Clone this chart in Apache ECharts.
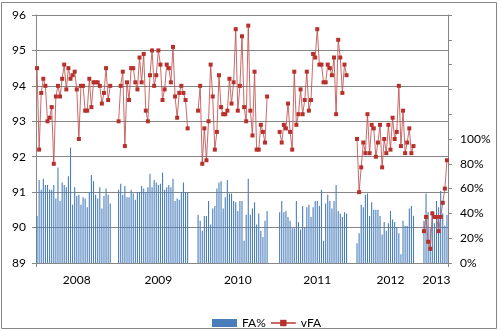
<!DOCTYPE html>
<html><head><meta charset="utf-8">
<script src="https://cdn.jsdelivr.net/npm/echarts@6/dist/echarts.min.js"></script>
<style>html,body{margin:0;padding:0;background:#fff}#c{width:501px;height:331px}</style>
</head><body><div id="c"></div>
<script>
const years = ['2008','2009','2010','2011','2012','2013'];
const offSeasonSlots = [3, 4, 5, 4, 4, 0];

const vFA2008 = [94.5,92.2,93.8,94.2,94.0,93.0,93.1,93.4,91.8,93.7,94.0,93.7,94.2,94.6,93.9,94.5,94.2,94.3,94.4,93.9,92.5,94.0,94.0,93.3,93.3,94.2,93.4,94.1,94.1,94.1,94.0,93.5,93.8,94.5,93.6,94.0];
const vFA2009 = [93.0,94.0,94.4,92.3,94.1,93.6,94.5,94.5,94.1,93.9,94.8,94.1,94.9,93.3,93.0,94.3,95.0,94.0,94.3,95.0,94.6,93.6,93.9,94.6,94.5,94.1,95.1,93.7,93.1,93.8,94.0,93.8,93.6,92.8];
const vFA2010 = [93.3,94.0,91.8,92.8,91.9,93.0,94.6,93.7,92.2,92.7,94.3,93.4,93.2,93.2,93.3,94.2,93.5,94.1,95.6,93.3,94.0,95.4,93.4,93.0,95.7,93.3,92.6,94.4,92.2,92.2,92.9,92.7,92.4,93.7];
const vFA2011 = [92.7,92.4,92.9,92.8,93.5,92.7,92.2,94.4,92.9,93.2,93.9,93.2,93.6,94.4,93.3,93.6,94.9,94.8,95.6,94.6,94.6,94.1,94.1,94.6,94.5,94.3,94.8,93.2,95.3,94.8,93.8,94.6,94.3];
const vFA2012 = [92.5,91.0,91.7,92.4,92.1,93.2,92.1,92.9,92.8,92.0,92.4,92.9,91.7,92.5,92.1,92.9,92.2,93.1,92.5,92.7,94.0,92.3,93.3,92.1,92.4,92.8,92.1,92.3];
const vFA2013 = [89.9,90.3,89.6,89.4,90.4,90.3,90.3,89.9,90.3,90.7,91.1,91.9];

const fa2008 = [0.38,0.67,0.59,0.68,0.63,0.63,0.59,0.59,0.63,0.52,0.77,0.50,0.65,0.63,0.61,0.70,0.93,0.47,0.61,0.54,0.55,0.47,0.53,0.52,0.45,0.57,0.71,0.66,0.55,0.52,0.61,0.44,0.54,0.60,0.55,0.48];
const fa2009 = [0.59,0.64,0.55,0.62,0.53,0.53,0.59,0.56,0.51,0.57,0.57,0.62,0.60,0.57,0.61,0.72,0.61,0.67,0.65,0.63,0.64,0.73,0.59,0.61,0.63,0.61,0.68,0.50,0.52,0.51,0.57,0.65,0.57,0.57];
const fa2010 = [0.39,0.34,0.26,0.38,0.38,0.50,0.31,0.44,0.46,0.60,0.65,0.66,0.44,0.53,0.67,0.56,0.56,0.50,0.49,0.42,0.50,0.50,0.18,0.39,0.68,0.39,0.44,0.49,0.31,0.40,0.26,0.21,0.34,0.42];
const fa2011 = [0.41,0.50,0.41,0.42,0.37,0.34,0.28,0.28,0.50,0.33,0.27,0.46,0.29,0.45,0.47,0.37,0.45,0.50,0.50,0.46,0.59,0.18,0.48,0.55,0.50,0.44,0.50,0.63,0.42,0.40,0.37,0.41,0.40];
const fa2012 = [0.16,0.24,0.47,0.45,0.55,0.56,0.38,0.49,0.43,0.43,0.43,0.38,0.23,0.33,0.26,0.32,0.42,0.35,0.33,0.29,0.24,0.07,0.34,0.30,0.30,0.44,0.46,0.38];
const fa2013 = [0.34,0.56,0.41,0.28,0.42,0.32,0.50,0.45,0.58,0.40,0.30,0.39];

const leftTicks = [89, 96, 1];
const rightTicks = [0, 2, 0.2];

const vFAByYear = [vFA2008, vFA2009, vFA2010, vFA2011, vFA2012, vFA2013];
const faByYear = [fa2008, fa2009, fa2010, fa2011, fa2012, fa2013];

const categories = [], faData = [], vfaData = [], yearLabelIndex = {};
let lastLabel = 0;
years.forEach((y, yi) => {
  const start = categories.length;
  const n = vFAByYear[yi].length + offSeasonSlots[yi];
  vFAByYear[yi].forEach((v, k) => {
    categories.push(y + '|' + (k + 1));
    vfaData.push(v);
    faData.push(faByYear[yi][k]);
  });
  for (let k = 0; k < offSeasonSlots[yi]; k++) {
    categories.push(y + '|off' + (k + 1));
    vfaData.push(null);
    faData.push(null);
  }
  lastLabel = start + Math.floor(n / 2);
  yearLabelIndex[lastLabel] = y;
});

const gray = '#868686';
const font = 'Lato, "Open Sans", sans-serif';
const chart = echarts.init(document.getElementById('c'), null, {renderer: 'canvas'});
chart.setOption({
  animation: false,
  backgroundColor: '#fff',
  textStyle: {fontFamily: font},
  grid: {left: 36, right: 53, top: 15, bottom: 68},
  graphic: [{
    type: 'rect', silent: true,
    shape: {x: 1.5, y: 2.5, width: 495, height: 326},
    style: {fill: 'none', stroke: gray, lineWidth: 1}
  }],
  legend: {
    left: 207, top: 312,
    itemWidth: 25, itemHeight: 8, itemGap: 4,
    textStyle: {fontFamily: font, fontSize: 12, color: '#000'},
    data: [{name: 'FA%', icon: 'rect'}, {name: 'vFA'}]
  },
  xAxis: {
    type: 'category',
    data: categories,
    boundaryGap: true,
    axisLine: {lineStyle: {color: gray, width: 1}},
    axisTick: {show: true, length: 4, interval: (i) => i === lastLabel, lineStyle: {color: gray}},
    axisLabel: {
      interval: (i) => yearLabelIndex[i] !== undefined,
      formatter: (v) => v.split('|')[0],
      margin: 11, fontFamily: font, fontSize: 12, color: '#000'
    },
    splitLine: {show: false}
  },
  yAxis: [{
    type: 'value', position: 'left',
    min: leftTicks[0], max: leftTicks[1], interval: leftTicks[2],
    axisLine: {show: true, lineStyle: {color: gray}},
    axisTick: {show: true, length: 4, lineStyle: {color: gray}},
    axisLabel: {margin: 10, fontFamily: font, fontSize: 12, color: '#000'},
    splitLine: {show: true, lineStyle: {color: gray, width: 1}}
  }, {
    type: 'value', position: 'right',
    min: rightTicks[0], max: rightTicks[1], interval: rightTicks[2],
    axisLine: {show: true, lineStyle: {color: gray}},
    axisTick: {show: true, length: 4, lineStyle: {color: gray}},
    axisLabel: {
      margin: 12, fontFamily: font, fontSize: 12, color: '#000',
      formatter: (v) => v > 1.0001 ? '' : Math.round(v * 100) + '%'
    },
    splitLine: {show: false}
  }],
  series: [{
    name: 'FA%', type: 'bar', yAxisIndex: 1,
    data: faData, barWidth: 1.1,
    itemStyle: {color: '#4A7EBB'}
  }, {
    name: 'vFA', type: 'line', yAxisIndex: 0,
    data: vfaData, connectNulls: false,
    symbol: 'rect', symbolSize: 4, showSymbol: true, showAllSymbol: true,
    lineStyle: {color: '#C0504D', width: 1, opacity: 0.85},
    itemStyle: {color: '#B8302C'}
  }]
});
</script></body></html>
